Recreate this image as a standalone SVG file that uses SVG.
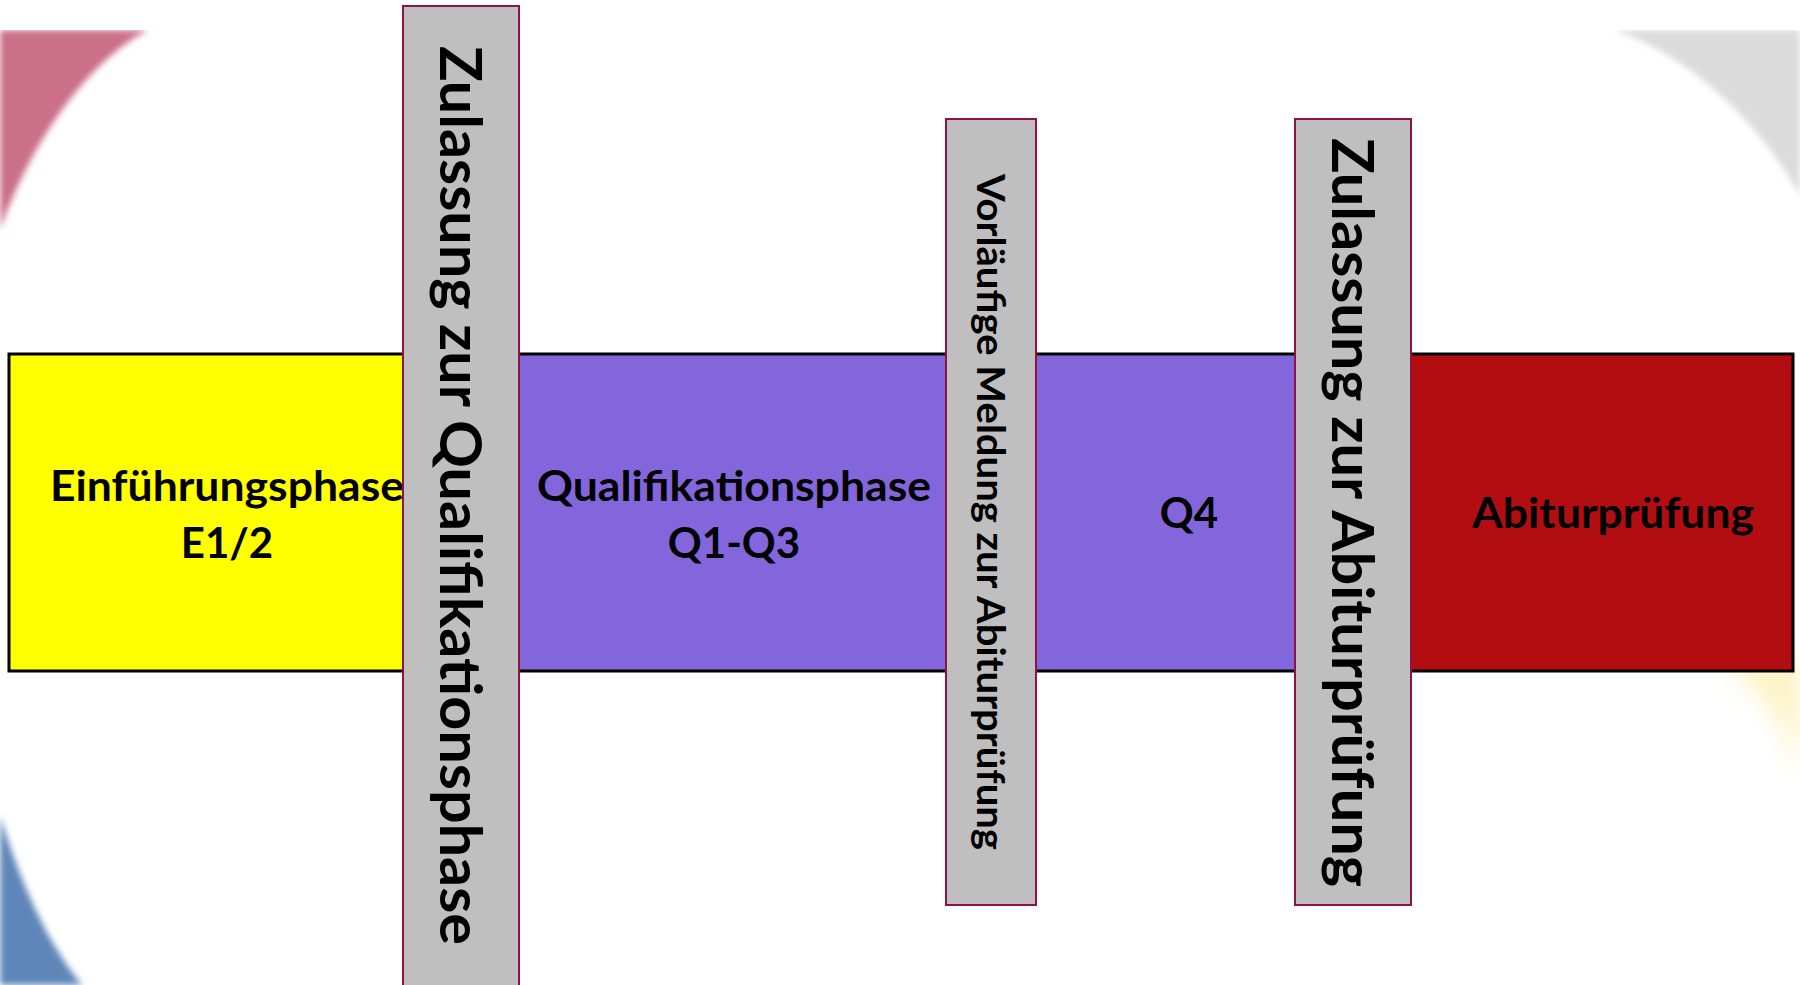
<svg xmlns="http://www.w3.org/2000/svg" width="1800" height="985" viewBox="0 0 1800 985">
  <style>
    .phase { stroke: #000000; stroke-width: 3; }
    .bar { fill: #BFBFBF; stroke: #8E1242; stroke-width: 2; }
    .lbl { font-family: Lato, "Open Sans", "Liberation Sans", sans-serif; font-weight: 700; fill: #000000; }
    .h { font-size: 42px; text-anchor: middle; }
    .vbig { font-size: 57px; }
    .vsmall { font-size: 39px; }
  </style>
  <defs>
    <filter id="soft" x="-20%" y="-20%" width="140%" height="140%">
      <feGaussianBlur stdDeviation="3"/>
    </filter>
    <filter id="softer" x="-50%" y="-50%" width="200%" height="200%">
      <feGaussianBlur stdDeviation="12"/>
    </filter>
  </defs>

  <g id="background">
    <rect x="0" y="0" width="1800" height="985" fill="#FFFFFF"/>
    <path d="M0,30 H148 C100,55 40,120 0,230 Z" fill="#CB7089" filter="url(#soft)"/>
    <path d="M1615,30 H1800 V196 C1770,140 1705,62 1615,30 Z" fill="#DBDBDB" filter="url(#soft)"/>
    <path d="M0,816 C20,880 45,940 82,985 H0 Z" fill="#5E86B8" filter="url(#soft)"/>
    <path d="M1720,660 C1765,690 1790,730 1800,780 V660 Z" fill="#FCEFB4" opacity="0.8" filter="url(#softer)"/>
    <rect x="0" y="0" width="1800" height="30" fill="#FFFFFF"/>
  </g>

  <g id="connectors"></g>

  <g id="node-einfuehrung">
    <rect class="phase" x="9" y="354" width="452" height="317" fill="#FFFF00"/>
    <text class="lbl h" x="227" y="501" textLength="354" lengthAdjust="spacingAndGlyphs">Einführungsphase</text>
    <text class="lbl h" x="227" y="558">E1/2</text>
  </g>

  <g id="node-q1q3">
    <rect class="phase" x="461" y="354" width="530" height="317" fill="#8366DB"/>
    <text class="lbl h" x="734" y="501" textLength="394" lengthAdjust="spacingAndGlyphs">Qualifikationsphase</text>
    <text class="lbl h" x="734" y="558">Q1-Q3</text>
  </g>

  <g id="node-q4">
    <rect class="phase" x="991" y="354" width="362" height="317" fill="#8366DB"/>
    <text class="lbl h" x="1189" y="528">Q4</text>
  </g>

  <g id="node-abitur">
    <rect class="phase" x="1353" y="354" width="440" height="317" fill="#B20E12"/>
    <text class="lbl h" x="1613" y="528" textLength="282" lengthAdjust="spacingAndGlyphs">Abiturprüfung</text>
  </g>

  <g id="node-zulassung-q">
    <rect class="bar" x="403" y="6" width="116" height="990"/>
    <text class="lbl vbig" transform="translate(440,46) rotate(90)" x="0" y="0" textLength="899" lengthAdjust="spacingAndGlyphs">Zulassung zur Qualifikationsphase</text>
  </g>

  <g id="node-meldung">
    <rect class="bar" x="946" y="119" width="90" height="786"/>
    <text class="lbl vsmall" transform="translate(977,174) rotate(90)" x="0" y="0" textLength="676" lengthAdjust="spacingAndGlyphs">Vorläufige Meldung zur Abiturprüfung</text>
  </g>

  <g id="node-zulassung-abi">
    <rect class="bar" x="1295" y="119" width="116" height="786"/>
    <text class="lbl vbig" transform="translate(1332,138) rotate(90)" x="0" y="0" textLength="749" lengthAdjust="spacingAndGlyphs">Zulassung zur Abiturprüfung</text>
  </g>
</svg>
